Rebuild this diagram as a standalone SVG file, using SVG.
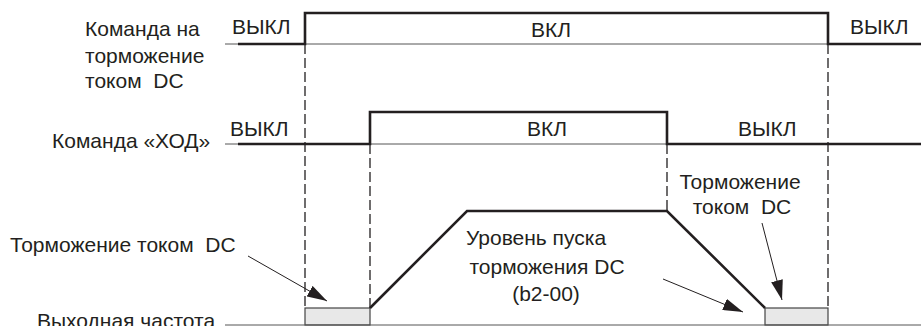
<svg xmlns="http://www.w3.org/2000/svg" width="921" height="326" viewBox="0 0 921 326">
<defs>
<style>
text{font-family:"Liberation Sans",Arial,sans-serif;font-size:21px;fill:#231f20;white-space:pre}
.m{text-anchor:middle}
.sig{fill:none;stroke:#231f20;stroke-width:2.6;stroke-linejoin:miter}
.base{fill:none;stroke:#555;stroke-width:1}
.dash{fill:none;stroke:#231f20;stroke-width:1.3;stroke-dasharray:10 4}
.box{fill:#e8e8e8;stroke:#444;stroke-width:1.2}
.lead{fill:none;stroke:#231f20;stroke-width:1;marker-end:url(#ah)}
</style>
<marker id="ah" viewBox="0 0 20 12" refX="20" refY="6" markerWidth="20" markerHeight="12" markerUnits="userSpaceOnUse" orient="auto">
<path d="M0,0 L20,6 L0,12 Z" fill="#231f20"/>
</marker>
</defs>
<g id="dc-command">
<line class="base" x1="225" y1="44" x2="921" y2="44"/>
<polyline class="sig" points="238,44 305,44 305,13 828,13 828,44 921,44"/>
<text x="232" y="34">ВЫКЛ</text>
<text class="m" x="551" y="37">ВКЛ</text>
<text x="850" y="34">ВЫКЛ</text>
<text x="85" y="36">Команда на</text>
<text x="85" y="63">торможение</text>
<text x="85" y="88">током  DC</text>
</g>
<g id="run-command">
<line class="base" x1="225" y1="144" x2="921" y2="144"/>
<polyline class="sig" points="238,144 370,144 370,112 667,112 667,144 921,144"/>
<text x="230" y="136">ВЫКЛ</text>
<text class="m" x="547" y="136">ВКЛ</text>
<text x="738" y="136">ВЫКЛ</text>
<text x="52" y="148">Команда «ХОД»</text>
</g>
<g id="output-frequency">
<rect class="box" x="305" y="308" width="65" height="17"/>
<rect class="box" x="765" y="308" width="63" height="17"/>
<line class="base" x1="225" y1="325" x2="921" y2="325"/>
<polyline class="sig" points="370,308 467,211 667,211 765,308"/>
<text x="37" y="328">Выходная частота</text>
</g>
<g id="labels">
<text x="10" y="252">Торможение током  DC</text>
<text class="m" x="536" y="245">Уровень пуска</text>
<text class="m" x="547" y="274">торможения DC</text>
<text class="m" x="546" y="301">(b2-00)</text>
<text class="m" x="740" y="189">Торможение</text>
<text class="m" x="742" y="214">током  DC</text>
</g>
<g id="connectors">
<line class="dash" x1="305" y1="44" x2="305" y2="308"/>
<line class="dash" x1="370" y1="144" x2="370" y2="308"/>
<line class="dash" x1="667" y1="144" x2="667" y2="211"/>
<line class="dash" x1="828" y1="44" x2="828" y2="308"/>
<line class="lead" x1="248" y1="256" x2="327" y2="301"/>
<line class="lead" x1="663" y1="279" x2="743" y2="312"/>
<line class="lead" x1="762" y1="223" x2="782" y2="300"/>
</g>
</svg>
